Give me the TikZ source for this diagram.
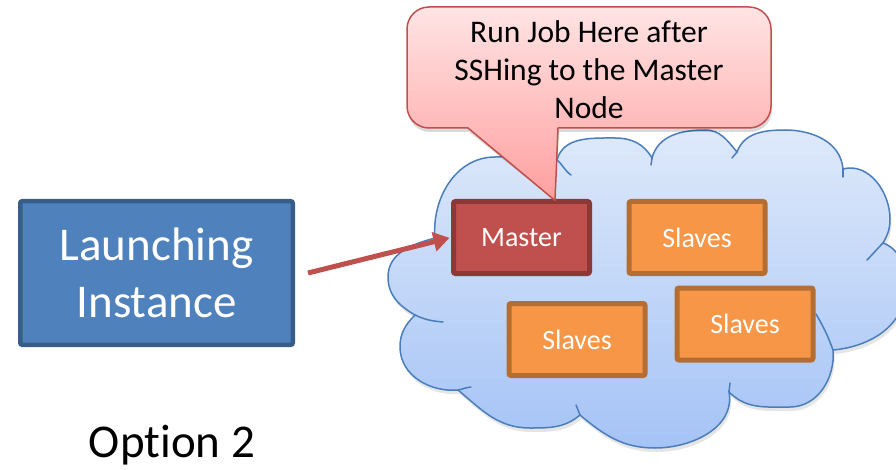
\documentclass[tikz,border=0pt]{standalone}
\usepackage{fontspec}
\setmainfont[Ligatures={NoCommon}]{Carlito}
\usetikzlibrary{arrows.meta,calc}
\definecolor{masterfill}{HTML}{C0504D}
\definecolor{masterdraw}{HTML}{8C3836}
\definecolor{slavefill}{HTML}{F79646}
\definecolor{slavedraw}{HTML}{B66D31}
\definecolor{launchfill}{HTML}{4F81BD}
\definecolor{launchdraw}{HTML}{385D8A}
\definecolor{cloudtop}{HTML}{DEE9FA}
\definecolor{cloudbot}{HTML}{A5C3F6}
\definecolor{clouddraw}{HTML}{4A7EBB}
\definecolor{calltop}{HTML}{FFE4E4}
\definecolor{callbot}{HTML}{FF9F9F}
\definecolor{calldraw}{HTML}{C0504D}
\tikzset{
  box/.style={rectangle, rounded corners=2pt, inner sep=0pt, text=white,
    minimum width=136pt, minimum height=72pt, line width=5pt,
    font=\fontsize{28}{34}\selectfont},
  masterbox/.style={box, fill=masterfill, draw=masterdraw},
  slavebox/.style={box, fill=slavefill, draw=slavedraw},
  launchbox/.style={rectangle, rounded corners=2pt, inner sep=0pt, text=white,
    fill=launchfill, draw=launchdraw, line width=4.5pt,
    minimum width=272.5pt, minimum height=143.5pt, align=center,
    font=\fontsize{47}{57}\selectfont},
  cloudline/.style={draw=clouddraw, line width=1.5pt},
  tailline/.style={draw=clouddraw, line width=1.5pt, line cap=round},
  bigtext/.style={inner sep=0pt, font=\fontsize{47}{57}\selectfont},
  calltext/.style={inner sep=0pt, align=center, font=\fontsize{31.5}{38}\selectfont},
  linkarrow/.style={line width=5pt, draw=masterfill, -{Triangle[length=16pt,width=19pt]}, shorten >=1.5pt}
}
\def\cloudpath{(435,231) to[out=95,in=180] (495,312) to[out=0,in=160] (557,309)
 to[out=75,in=180] (615,331) to[out=0,in=120] (652,311)
 to[out=75,in=180] (705,339) to[out=0,in=130] (737,317)
 to[out=70,in=180] (785,339) to[out=0,in=95] (843,300)
 to[out=15,in=90] (890,250) to[out=-90,in=60] (883,226)
 to[out=-20,in=90] (905,180) to[out=-90,in=5] (833,119)
 to[out=-85,in=0] (790,62) to[out=180,in=-45] (729,77)
 to[out=-80,in=0] (655,21) to[out=180,in=-40] (580,54)
 to[out=-140,in=0] (530,41) to[out=180,in=-40] (458,79)
 to[out=185,in=-90] (400,122) to[out=90,in=-135] (415,154)
 to[out=150,in=-90] (388,192) to[out=90,in=-165] (435,231) -- cycle}
\begin{document}
\begin{tikzpicture}[x=1pt,y=1pt]
\useasboundingbox (0,0) rectangle (896,469);
\clip (0,0) rectangle (896,469);
% cloud shadow and cloud
\fill[black, opacity=0.10, shift={(1.5,-4)}] \cloudpath;
\path[cloudline, top color=cloudtop, bottom color=cloudbot] \cloudpath;
% inner tails of the cloud bumps
\draw[tailline] (557,309) to[out=-40,in=145] (571,294);
\draw[tailline] (652,311) -- (651,304);
\draw[tailline] (737,317) -- (732,311);
\draw[tailline] (843,300) -- (843,292);
\draw[tailline] (883,226) to[out=-135,in=45] (867,209);
\draw[tailline] (833,119) to[out=110,in=-60] (816,155);
\draw[tailline] (729,77) -- (730,86);
\draw[tailline] (580,54) -- (576,64);
\draw[tailline] (458,79) to[out=10,in=185] (471,82);
\draw[tailline] (415,154) to[out=-25,in=175] (443,147);
% boxes
\node[launchbox] (launch) at (156.5,196) {Launching\\Instance};
\node[masterbox] (master) at (521.5,231.5) {Master};
\node[slavebox] (slaveA) at (697,231.5) {Slaves};
\node[slavebox] (slaveB) at (577,129.5) {Slaves};
\node[slavebox] (slaveC) at (745,145) {Slaves};
% arrow
\coordinate (tail) at (308,196);
\draw[linkarrow] (tail) -- (master.west);
% callout
\coordinate (tip) at ($(master.north)+(33.5,-1.5)$);
\def\callpath{(468,341) -- (429,341) arc[start angle=270,end angle=180,radius=22]
  -- (407,440) arc[start angle=180,end angle=90,radius=22]
  -- (749,462) arc[start angle=90,end angle=0,radius=22]
  -- (771,363) arc[start angle=0,end angle=-90,radius=22]
  -- (558,341) -- (tip) -- cycle}
\fill[black, opacity=0.15, shift={(1,-4)}] \callpath;
\path[draw=calldraw, line width=1.5pt, line join=round, top color=calltop, bottom color=callbot] \callpath;
\node[calltext] (calltxt) at (589,399.5) {Run Job Here after\\SSHing to the Master\\Node};
% caption
\node[bigtext, anchor=base] (opt) at (172,12) {Option 2};
\end{tikzpicture}
\end{document}
